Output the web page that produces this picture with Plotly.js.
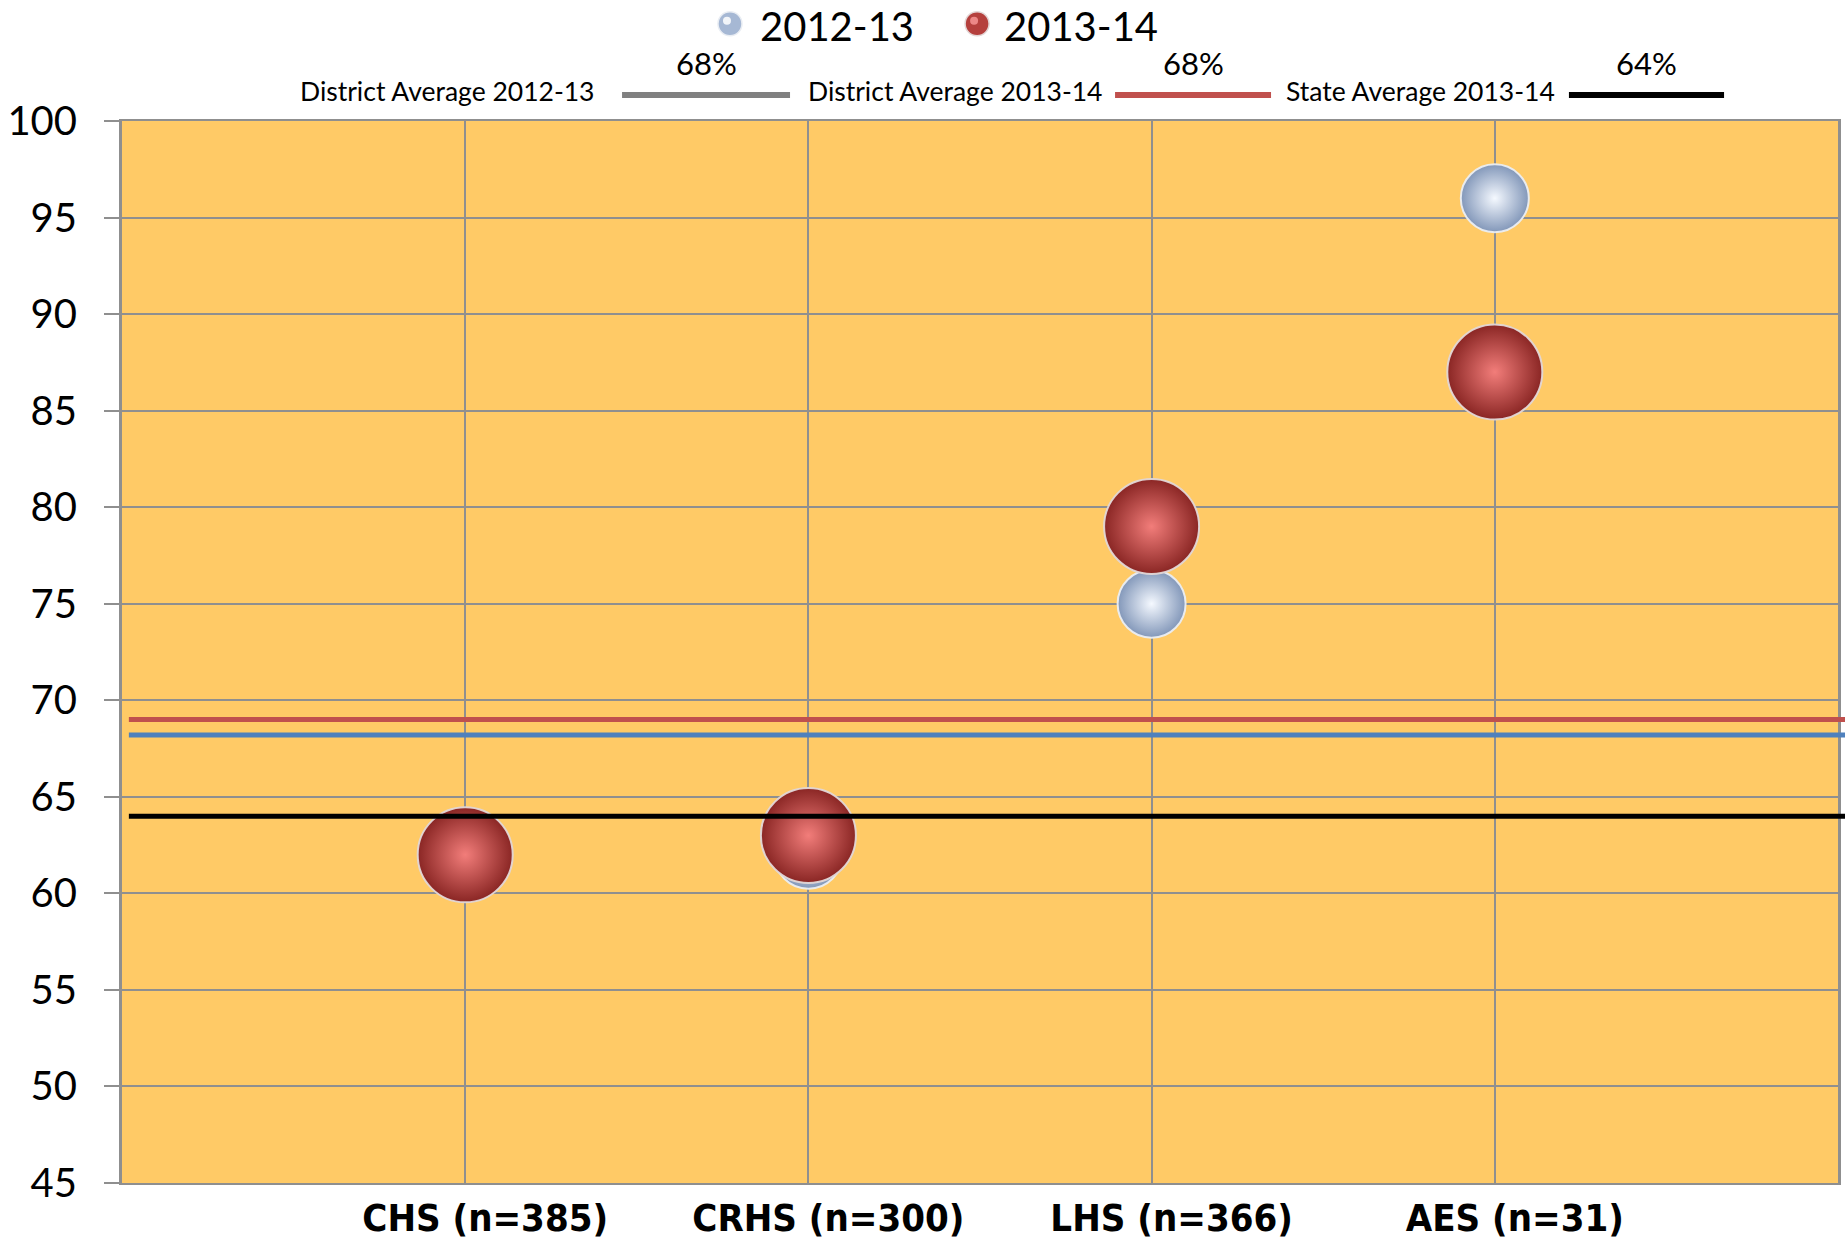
<!DOCTYPE html>
<html>
<head>
<meta charset="utf-8">
<script src="https://cdn.plot.ly/plotly-3.0.1.min.js"></script>
<style>
  html, body { margin: 0; padding: 0; background: #ffffff; }
  #chart { width: 1845px; height: 1239px; }
</style>
</head>
<body>
<div id="chart"></div>
<script>
// ---- data ----
var categories = ['CHS (n=385)', 'CRHS (n=300)', 'LHS (n=366)', 'AES (n=31)'];
var seriesNames = ['2012-13', '2013-14'];
var values2012 = [62, 62, 75, 96];
var values2013 = [62, 63, 79, 87];
var avgNames = ['District Average 2012-13', 'District Average 2013-14', 'State Average 2013-14'];
var avgLabels = ['68%', '68%', '64%'];
var avgValues = [68.2, 69, 64];
var yTicks = [45, 50, 55, 60, 65, 70, 75, 80, 85, 90, 95, 100];

// ---- styling ----
var FONT = 'Lato, "Open Sans", sans-serif';
var avgLineColors = ['#4F81BD', '#C0504D', '#000000'];
var avgLegendColors = ['#808080', '#C0504D', '#000000'];
var seriesFill = ['#a6b8d4', '#b5403d'];
var seriesRim = ['#e9edf3', '#e3d6d6'];
var seriesShine = ['rgba(255,255,255,0.85)', 'rgba(255,160,160,0.75)'];
var xPos = categories.map(function (c, i) { return i + 1; });

var traces = [
  {
    type: 'scatter', mode: 'markers', name: seriesNames[0],
    x: xPos, y: values2012,
    marker: {
      size: 68, color: '#8297b9',
      gradient: { type: 'radial', color: '#f5f9ff' },
      line: { color: 'rgba(235,238,242,0.95)', width: 2 }
    },
    cliponaxis: false, hoverinfo: 'skip', showlegend: false
  },
  {
    type: 'scatter', mode: 'markers', name: seriesNames[1],
    x: xPos, y: values2013,
    marker: {
      size: 95, color: '#8a2624',
      gradient: { type: 'radial', color: '#f27d7a' },
      line: { color: 'rgba(225,215,215,0.95)', width: 2 }
    },
    cliponaxis: false, hoverinfo: 'skip', showlegend: false
  }
];

// plot-area lines for the averages
var shapes = avgValues.map(function (v, i) {
  return {
    type: 'line', xref: 'paper', yref: 'y',
    x0: 0.004, x1: 1.005, y0: v, y1: v,
    line: { color: avgLineColors[i], width: 5 }, layer: 'above'
  };
});

var annotations = [];

// top legend row (series)
var legIconX = [0.3543, 0.4983];
var legTextX = [0.3706, 0.5128];
var legIconY = 1.0915;
var legTextY = 1.0898;
seriesNames.forEach(function (n, i) {
  shapes.push({
    type: 'circle', xref: 'paper', yref: 'paper',
    xsizemode: 'pixel', ysizemode: 'pixel', xanchor: legIconX[i], yanchor: legIconY,
    x0: -12, x1: 12, y0: -12, y1: 12,
    fillcolor: seriesFill[i], line: { color: seriesRim[i], width: 1.5 }
  });
  shapes.push({
    type: 'circle', xref: 'paper', yref: 'paper',
    xsizemode: 'pixel', ysizemode: 'pixel', xanchor: legIconX[i], yanchor: legIconY,
    x0: -7, x1: 1, y0: -1, y1: 7,
    fillcolor: seriesShine[i], line: { width: 0 }
  });
  annotations.push({
    xref: 'paper', yref: 'paper', x: legTextX[i], y: legTextY,
    xanchor: 'left', yanchor: 'middle', showarrow: false,
    text: n, font: { family: FONT, size: 40, color: '#000' }
  });
});

// second legend row (names, line samples, percentages)
var rowTextRight = [0.2762, 0.5723, 0.8362];
var rowLineX0 = [0.2914, 0.5787, 0.8432];
var rowLineX1 = [0.3893, 0.6696, 0.9336];
avgNames.forEach(function (n, i) {
  annotations.push({
    xref: 'paper', yref: 'paper', x: rowTextRight[i], y: 1.0282,
    xanchor: 'right', yanchor: 'middle', showarrow: false,
    text: n, font: { family: FONT, size: 26.5, color: '#000' }
  });
  annotations.push({
    xref: 'paper', yref: 'paper', x: (rowLineX0[i] + rowLineX1[i]) / 2, y: 1.0542,
    xanchor: 'center', yanchor: 'middle', showarrow: false,
    text: avgLabels[i], font: { family: FONT, size: 31, color: '#000' }
  });
  shapes.push({
    type: 'line', xref: 'paper', yref: 'paper',
    x0: rowLineX0[i], x1: rowLineX1[i], y0: 1.0245, y1: 1.0245,
    line: { color: avgLegendColors[i], width: 6 }
  });
});

var layout = {
  width: 1845, height: 1239,
  margin: { l: 122, r: 7, t: 121, b: 56 },
  paper_bgcolor: '#ffffff',
  plot_bgcolor: '#FFCA66',
  showlegend: false,
  xaxis: {
    range: [0, 5],
    tickmode: 'array',
    tickvals: [0].concat(xPos).concat([5]),
    ticktext: [''].concat(categories.map(function (c) { return '<b>' + c + '</b>'; })).concat(['']),
    ticklabelshift: 20,
    ticklabelstandoff: 0,
    tickfont: { family: '"DejaVu Sans Condensed", "DejaVu Sans", sans-serif', size: 38, color: '#000', weight: 'bold' },
    showgrid: true, gridcolor: '#8f8f8f', gridwidth: 2,
    showline: true, linecolor: '#8f8f8f', linewidth: 2, mirror: true,
    zeroline: false, ticks: '', fixedrange: true
  },
  yaxis: {
    range: [45, 100],
    tickmode: 'array', tickvals: yTicks, ticktext: yTicks.map(String),
    ticks: 'outside', ticklen: 15, tickcolor: '#8f8f8f', tickwidth: 2,
    ticklabelstandoff: 19,
    tickfont: { family: FONT, size: 40, color: '#000' },
    showgrid: true, gridcolor: '#8f8f8f', gridwidth: 2,
    showline: true, linecolor: '#8f8f8f', linewidth: 3, mirror: true,
    zeroline: false, fixedrange: true
  },
  shapes: shapes,
  annotations: annotations,
  hovermode: false
};

Plotly.newPlot('chart', traces, layout, { displayModeBar: false, staticPlot: true });
</script>
</body>
</html>
